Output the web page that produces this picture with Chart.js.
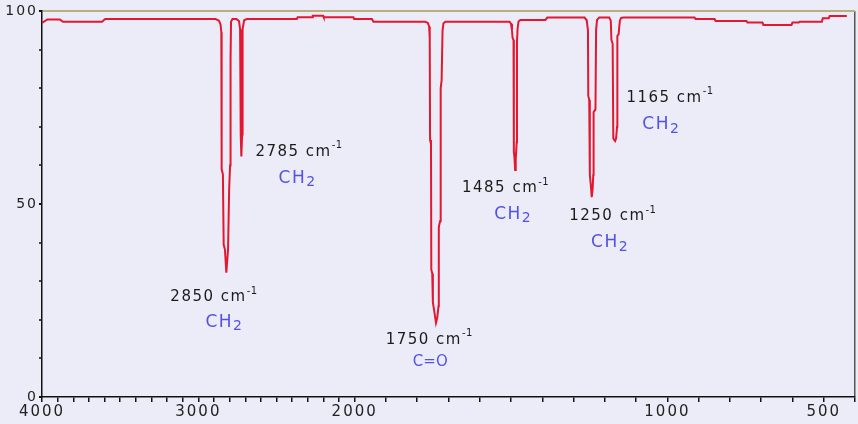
<!DOCTYPE html>
<html>
<head>
<meta charset="utf-8">
<script src="https://cdn.jsdelivr.net/npm/chart.js@4"></script>
<style>
  html, body { margin: 0; padding: 0; background: #ECECF8; }
  canvas { display: block; }
</style>
</head>
<body>
<canvas id="c" width="858" height="424"></canvas>
<script>
// ---- data (wavenumber in cm-1, transmittance in %) ----
const wavenumbers = [
  4000, 3994, 3966, 3886, 3866, 3616, 3596, 2890, 2868, 2858, 2853, 2851, 2843, 2838, 2830, 2821,
  2810, 2803, 2797, 2794, 2791, 2782, 2756, 2740, 2733, 2729, 2725, 2720, 2717, 2707, 2690,
  2370, 2365, 2272, 2268, 2202, 2198, 2008, 2004, 1945, 1940, 1774, 1766, 1762, 1760, 1759,
  1756, 1755, 1752, 1750, 1746, 1740, 1736, 1732, 1731, 1727, 1725, 1722, 1719, 1716, 1710,
  1505, 1500, 1497, 1495, 1492, 1491, 1489, 1487, 1485, 1482, 1481, 1479, 1476, 1470, 1390, 1384,
  1265, 1258, 1254, 1253, 1250, 1248, 1245, 1242, 1239, 1237, 1236, 1230, 1228, 1225, 1218,
  1186, 1181, 1179, 1175, 1173, 1169, 1167, 1164, 1161, 1160, 1156, 1152, 1148, 1140,
  913, 910, 849, 846, 747, 744, 696, 693, 603, 600, 580, 577, 506, 503, 484, 481, 426
];
const transmittance = [
  96.9, 96.9, 97.8, 97.8, 97.2, 97.2, 97.9, 97.9, 97.5, 96.5, 94.5, 59.0, 57.7, 39.5, 38.2, 32.2,
  38.2, 53.8, 60.0, 87.5, 97.2, 97.9, 97.9, 97.4, 95.3, 68.1, 62.3, 68.0, 95.3, 97.6, 97.9,
  97.9, 98.4, 98.4, 98.8, 98.8, 98.4, 98.4, 97.9, 97.9, 97.2, 97.2, 96.9, 96.0, 93.0, 66.6,
  65.5, 33.0, 32.0, 24.5, 22.5, 19.2, 20.5, 23.5, 44.0, 45.5, 80.0, 82.0, 95.0, 96.8, 97.2,
  97.2, 96.7, 95.0, 93.0, 92.5, 63.5, 62.0, 58.8, 61.5, 66.0, 92.0, 95.5, 97.3, 97.7, 97.7, 98.3,
  98.3, 97.6, 95.0, 78.0, 77.0, 57.5, 55.0, 51.8, 54.0, 57.5, 73.8, 74.5, 95.0, 97.7, 98.3,
  98.3, 97.5, 92.5, 91.5, 67.0, 66.5, 66.3, 67.0, 70.0, 93.5, 94.0, 97.5, 98.2, 98.3,
  98.3, 97.9, 97.9, 97.4, 97.4, 97.0, 97.0, 96.4, 96.4, 97.0, 97.0, 97.2, 97.2, 98.1, 98.1, 98.7, 98.7
];
const xTickLabels = [4000, 3000, 2000, 1000, 500];
const yTickLabels = [0, 50, 100];

// peak annotations (anchors in data units: wavenumber, transmittance)
const peakNames  = ['2850', '2785', '1750', '1485', '1250', '1165'];
const peakGroups = ['CH2', 'CH2', 'C=O', 'CH2', 'CH2', 'CH2'];
const peakLabelW = [3179, 2635, 1901, 1657, 1314, 1131];
const peakLabelT = [25.9, 63.5, 14.8, 54.1, 46.9, 77.5];
const groupLabelW = [2955, 2487, 1814, 1554, 1244, 1080];
const groupLabelT = [19.4, 56.7, 9.1, 47.2, 39.9, 70.5];

// ---- split wavenumber axis: 4000-2000 at one scale, 2000-400 at double scale ----
function pos(w) { return w >= 2000 ? 4000 - w : 2000 + 2 * (2000 - w); }
function inv(p) { return p <= 2000 ? 4000 - p : 2000 - (p - 2000) / 2; }

const minorTickW = [];
for (let w = 4000; w >= 400; w -= 100) minorTickW.push(w);

const bgPlugin = {
  id: 'bg',
  beforeDraw(chart) {
    const c = chart.ctx;
    c.save();
    c.fillStyle = '#ECECF8';
    c.fillRect(0, 0, chart.width, chart.height);
    c.restore();
    c.letterSpacing = '2px';
  },
  afterDraw(chart) { chart.ctx.letterSpacing = '0px'; }
};

const labelPlugin = {
  id: 'peakLabels',
  afterDatasetsDraw(chart) {
    const c = chart.ctx, xs = chart.scales.x, ys = chart.scales.y;
    c.save();
    c.textBaseline = 'middle';
    c.textAlign = 'left';
    for (let i = 0; i < peakNames.length; i++) {
      // wavenumber label with cm^-1
      let x = xs.getPixelForValue(pos(peakLabelW[i]));
      let y = ys.getPixelForValue(peakLabelT[i]);
      c.letterSpacing = '1.5px';
      c.fillStyle = '#1b1b1b';
      c.font = '15px "DejaVu Sans"';
      const main = peakNames[i] + ' cm';
      c.fillText(main, x, y);
      const w = c.measureText(main).width;
      c.font = '10px "DejaVu Sans"';
      c.letterSpacing = '0.5px';
      c.fillText('-1', x + w, y - 6);
      // group label
      x = xs.getPixelForValue(pos(groupLabelW[i]));
      y = ys.getPixelForValue(groupLabelT[i]);
      c.fillStyle = '#5252E4';
      const g = peakGroups[i];
      const m = g.match(/^([A-Za-z]+)(\d)$/);
      if (m) {
        c.font = '17px "DejaVu Sans"';
        c.letterSpacing = '1.5px';
        c.fillText(m[1], x, y);
        const gw = c.measureText(m[1]).width;
        c.font = '14px "DejaVu Sans"';
        c.letterSpacing = '0px';
        c.fillText(m[2], x + gw, y + 4);
      } else {
        c.font = '15px "DejaVu Sans"';
        c.letterSpacing = '0px';
        c.fillText(g, x, y);
      }
    }
    c.restore();
  }
};

new Chart(document.getElementById('c').getContext('2d'), {
  type: 'line',
  data: {
    datasets: [{
      data: wavenumbers.map((w, i) => ({ x: pos(w), y: transmittance[i] })),
      borderColor: '#E3172F',
      borderWidth: 2,
      pointRadius: 0,
      tension: 0,
      fill: false
    }]
  },
  options: {
    responsive: false,
    animation: false,
    events: [],
    plugins: { legend: { display: false }, tooltip: { enabled: false } },
    layout: { padding: { top: 11, right: 3, left: 0, bottom: 0 } },
    scales: {
      x: {
        type: 'linear',
        min: 0,
        max: pos(400),
        afterBuildTicks: s => { s.ticks = minorTickW.map(w => ({ value: pos(w) })); },
        afterFit: s => { s.height = 27; },
        ticks: {
          autoSkip: false,
          maxRotation: 0,
          padding: 1,
          color: '#222',
          font: { family: 'DejaVu Sans', size: 15 },
          callback: v => { const w = Math.round(inv(v)); return xTickLabels.includes(w) ? String(w) : ''; }
        },
        grid: {
          color: c => (c.tick && c.tick.value === pos(400)) ? '#555' : 'rgba(0,0,0,0)',
          lineWidth: 1.5,
          tickColor: '#111',
          tickLength: 5,
          tickWidth: 1.5
        },
        border: { color: '#111', width: 1.5 }
      },
      y: {
        min: 0,
        max: 100,
        afterFit: s => { s.width = 42; },
        ticks: {
          stepSize: 10,
          autoSkip: false,
          padding: 1,
          color: '#222',
          font: { family: 'DejaVu Sans', size: 14 },
          callback: v => yTickLabels.includes(v) ? String(v) : ''
        },
        grid: {
          color: c => (c.tick && c.tick.value === 100) ? '#B9B17D' : 'rgba(0,0,0,0)',
          lineWidth: 2,
          tickColor: '#111',
          tickLength: 3,
          tickWidth: c => (c.tick && c.tick.value % 50 === 0) ? 2 : 1.5
        },
        border: { color: '#111', width: 1.5 }
      }
    }
  },
  plugins: [bgPlugin, labelPlugin]
});
</script>
</body>
</html>
